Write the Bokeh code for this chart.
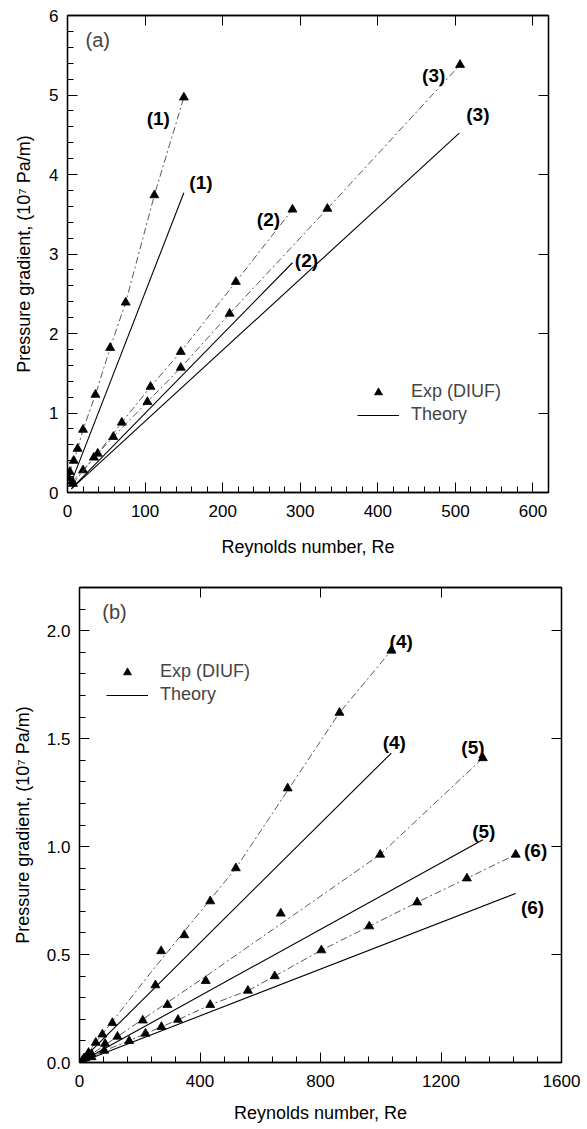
from bokeh.plotting import figure
from bokeh.models import (Range1d, LinearAxis, SingleIntervalTicker, Legend, LegendItem,
                          Label, NumeralTickFormatter, CustomJSTickFormatter, Spacer)
from bokeh.layouts import column, row
from bokeh.embed import file_html
from bokeh.resources import INLINE
from bokeh.core.properties import value

FONT = "Liberation Sans"

# ---------------- Panel (a) data ----------------
a_re_1 = [2, 3, 8, 13, 20, 36, 55, 75, 112, 150]
a_dp_1 = [0.18, 0.26, 0.40, 0.55, 0.79, 1.23, 1.82, 2.39, 3.74, 4.97]
a_re_2 = [6, 20, 39, 70, 107, 146, 217, 290]
a_dp_2 = [0.14, 0.28, 0.49, 0.88, 1.33, 1.77, 2.65, 3.56]
a_re_3 = [7, 34, 59, 103, 146, 209, 335, 506]
a_dp_3 = [0.11, 0.44, 0.70, 1.14, 1.57, 2.25, 3.57, 5.38]

a_th_re_1 = [5, 150]
a_th_dp_1 = [0.13, 3.77]
a_th_re_2 = [5, 290]
a_th_dp_2 = [0.05, 2.89]
a_th_re_3 = [5, 505]
a_th_dp_3 = [0.045, 4.52]

a_lbl_text = ["(1)", "(1)", "(2)", "(2)", "(3)", "(3)"]
a_lbl_re = [117, 172, 259, 308, 472, 529]
a_lbl_dp = [4.71, 3.90, 3.44, 2.92, 5.25, 4.75]

# ---------------- Panel (b) data ----------------
b_re_4 = [15, 30, 54, 76, 109, 252, 271, 348, 434, 519, 691, 863, 1035]
b_dp_4 = [0.02, 0.045, 0.092, 0.13, 0.183, 0.358, 0.516, 0.59, 0.747, 0.90, 1.27, 1.62, 1.908]
b_re_5 = [20, 40, 85, 126, 210, 292, 419, 668, 998, 1339]
b_dp_5 = [0.02, 0.04, 0.087, 0.12, 0.195, 0.267, 0.378, 0.69, 0.963, 1.41]
b_re_6 = [10, 40, 82, 165, 219, 272, 327, 434, 559, 648, 803, 962, 1121, 1286, 1448]
b_dp_6 = [0.01, 0.025, 0.055, 0.10, 0.134, 0.165, 0.198, 0.267, 0.333, 0.40, 0.52,
          0.631, 0.742, 0.853, 0.963]

b_fit_re_4 = [10, 250, 519, 863, 1035]
b_fit_dp_4 = [0.015, 0.44, 0.90, 1.62, 1.908]
b_fit_re_5 = [10, 420, 998, 1339]
b_fit_dp_5 = [0.01, 0.40, 0.963, 1.41]
b_fit_re_6 = b_re_6
b_fit_dp_6 = b_dp_6

b_th_re_4 = [10, 1035]
b_th_dp_4 = [0.014, 1.433]
b_th_re_5 = [10, 1339]
b_th_dp_5 = [0.008, 1.032]
b_th_re_6 = [10, 1448]
b_th_dp_6 = [0.005, 0.783]

b_lbl_text = ["(4)", "(4)", "(5)", "(5)", "(6)", "(6)"]
b_lbl_re = [1068, 1045, 1306, 1342, 1514, 1504]
b_lbl_dp = [1.95, 1.48, 1.46, 1.07, 0.98, 0.72]

EXP_COLOR = "#444444"
EXP_DASH = "7 3 2 3"


def style_axes(p, xint, xminor, yint, yminor, xlabel_standoff, ylabel_standoff, yfmt=None):
    p.xaxis.ticker = SingleIntervalTicker(interval=xint, num_minor_ticks=xminor)
    p.yaxis.ticker = SingleIntervalTicker(interval=yint, num_minor_ticks=yminor)
    if yfmt:
        p.yaxis.formatter = NumeralTickFormatter(format=yfmt)
    for ax in (p.xaxis[0], p.yaxis[0]):
        ax.major_tick_in = 10
        ax.major_tick_out = 0
        ax.minor_tick_in = 6
        ax.minor_tick_out = 0
        ax.major_label_text_font = FONT
        ax.major_label_text_font_size = "17px"
        ax.major_label_text_color = "black"
        ax.major_label_standoff = 9
        ax.axis_line_color = "black"
        ax.axis_line_width = 1.3
        ax.major_tick_line_color = "black"
        ax.minor_tick_line_color = "black"
        ax.axis_label_text_font = FONT
        ax.axis_label_text_font_size = "18px"
        ax.axis_label_text_font_style = "normal"
        ax.axis_label_text_color = "black"
    p.xaxis.major_label_standoff = 12
    p.yaxis.axis_label = "Pressure gradient, (10\u2077 Pa/m)"
    p.yaxis.axis_label_standoff = ylabel_standoff
    p.xaxis.axis_label = "Reynolds number, Re"
    p.xaxis.axis_label_standoff = xlabel_standoff
    # top and right axes with inward major ticks only, no labels
    blank = CustomJSTickFormatter(code="return ''")
    top = LinearAxis(ticker=SingleIntervalTicker(interval=xint, num_minor_ticks=0), formatter=blank)
    right = LinearAxis(ticker=SingleIntervalTicker(interval=yint, num_minor_ticks=0), formatter=blank)
    for ax in (top, right):
        ax.major_tick_in = 10
        ax.major_tick_out = 0
        ax.minor_tick_line_color = None
        ax.major_label_standoff = 0
        ax.axis_line_color = "black"
        ax.axis_line_width = 1.3
    p.add_layout(top, "above")
    p.add_layout(right, "right")
    p.xgrid.grid_line_color = None
    p.ygrid.grid_line_color = None
    p.outline_line_color = "black"
    p.outline_line_width = 1.3


def make_panel(xmax, ymax, w, h, left, top, right, bottom):
    return figure(width=w, height=h, x_range=Range1d(0, xmax), y_range=Range1d(0, ymax),
                  output_backend="svg", toolbar_location=None,
                  min_border_left=left, min_border_top=top, min_border_right=right,
                  min_border_bottom=bottom, background_fill_color="white")


# ---------------- Panel (a) ----------------
pa = make_panel(620, 6, 67 + 481 + 20, 15 + 477 + 75, 67, 15, 20, 75)
style_axes(pa, 100, 5, 1, 5, xlabel_standoff=17, ylabel_standoff=12)

exp_a = []
for re_, dp_ in ((a_re_1, a_dp_1), (a_re_2, a_dp_2), (a_re_3, a_dp_3)):
    pa.line(re_, dp_, line_color=EXP_COLOR, line_width=0.9, line_dash=EXP_DASH)
    exp_a.append(pa.scatter(re_, dp_, marker="triangle", size=9, fill_color="black",
                            line_color="black", line_width=0.8))
th_a = []
for re_, dp_ in ((a_th_re_1, a_th_dp_1), (a_th_re_2, a_th_dp_2), (a_th_re_3, a_th_dp_3)):
    th_a.append(pa.line(re_, dp_, line_color="black", line_width=1.1))

pa.text(x=a_lbl_re, y=a_lbl_dp, text=a_lbl_text, text_font=value(FONT), text_font_size="19px",
        text_font_style="bold", text_align="center", text_baseline="middle", text_color="black")
pa.add_layout(Label(x=39, y=5.69, text="(a)", text_font=FONT, text_font_size="20px",
                    text_align="center", text_baseline="middle"))

leg_a = Legend(items=[LegendItem(label="Exp (DIUF)", renderers=[exp_a[0]]),
                      LegendItem(label="Theory", renderers=[th_a[0]])],
               location=(290, 67), margin=0, padding=0, spacing=2, glyph_width=42,
               glyph_height=20, label_height=20, label_standoff=12,
               label_text_font=FONT, label_text_font_size="18px",
               border_line_color=None, background_fill_alpha=0)
pa.add_layout(leg_a, "center")

# ---------------- Panel (b) ----------------
pb = make_panel(1600, 2.2, 68 + 484 + 20, 20 + 478 + 60, 68, 20, 20, 60)
style_axes(pb, 400, 5, 0.5, 5, xlabel_standoff=13, ylabel_standoff=11, yfmt="0.0")

exp_b = []
for re_, dp_, fr, fd in ((b_re_4, b_dp_4, b_fit_re_4, b_fit_dp_4),
                         (b_re_5, b_dp_5, b_fit_re_5, b_fit_dp_5),
                         (b_re_6, b_dp_6, b_fit_re_6, b_fit_dp_6)):
    pb.line(fr, fd, line_color=EXP_COLOR, line_width=0.9, line_dash=EXP_DASH)
    exp_b.append(pb.scatter(re_, dp_, marker="triangle", size=9, fill_color="black",
                            line_color="black", line_width=0.8))
th_b = []
for re_, dp_ in ((b_th_re_4, b_th_dp_4), (b_th_re_5, b_th_dp_5), (b_th_re_6, b_th_dp_6)):
    th_b.append(pb.line(re_, dp_, line_color="black", line_width=1.1))

pb.text(x=b_lbl_re, y=b_lbl_dp, text=b_lbl_text, text_font=value(FONT), text_font_size="19px",
        text_font_style="bold", text_align="center", text_baseline="middle", text_color="black")
pb.add_layout(Label(x=116, y=2.085, text="(b)", text_font=FONT, text_font_size="20px",
                    text_align="center", text_baseline="middle"))

leg_b = Legend(items=[LegendItem(label="Exp (DIUF)", renderers=[exp_b[0]]),
                      LegendItem(label="Theory", renderers=[th_b[0]])],
               location=(27, 357), margin=0, padding=0, spacing=2, glyph_width=42,
               glyph_height=20, label_height=20, label_standoff=12,
               label_text_font=FONT, label_text_font_size="18px",
               border_line_color=None, background_fill_alpha=0)
pb.add_layout(leg_b, "center")

layout = column(pa, row(Spacer(width=9, height=10), pb, spacing=0), spacing=0)
open("out.html", "w").write(file_html(layout, INLINE))
